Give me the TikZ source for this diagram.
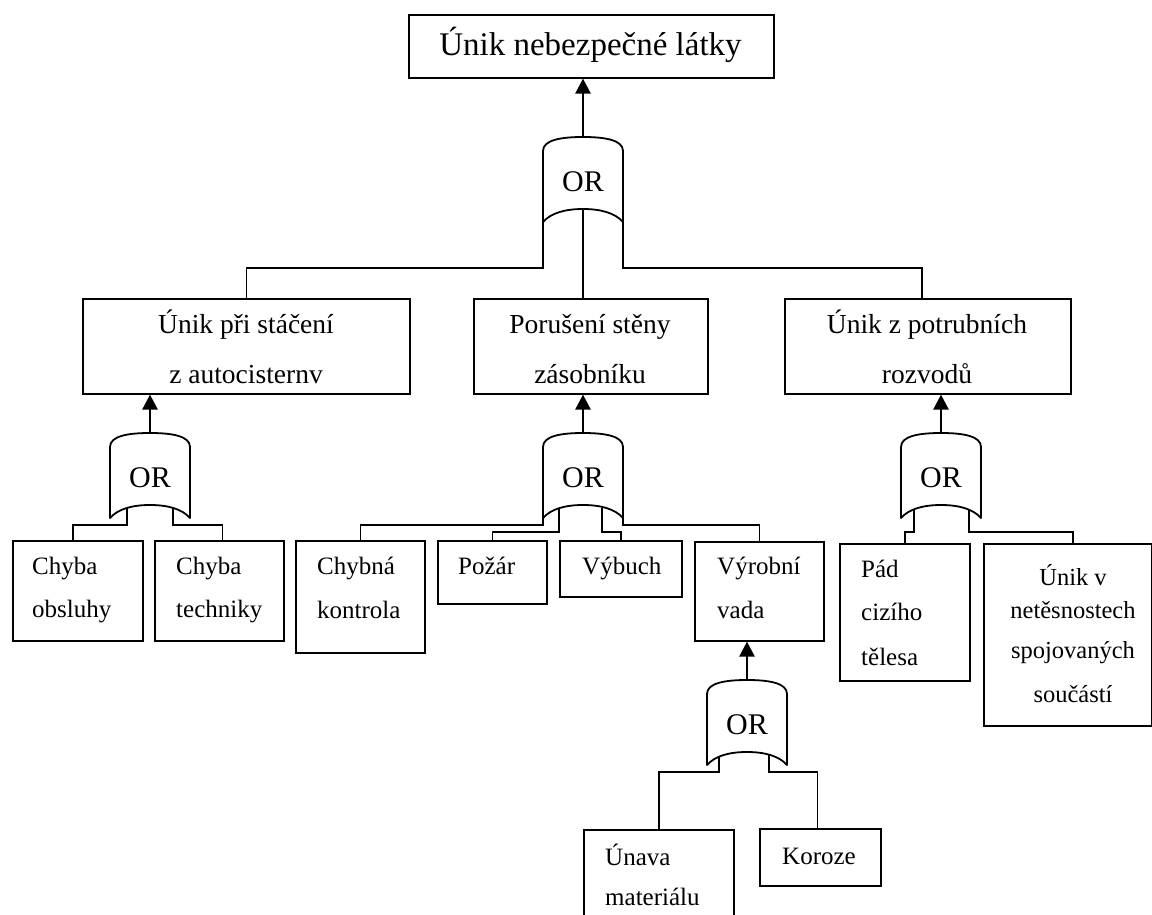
\documentclass[tikz,border=0pt]{standalone}
\usepackage{fontspec}
\setmainfont{Liberation Serif}
\usetikzlibrary{arrows.meta,calc}
\tikzset{
  box/.style={draw, line width=1.6pt, inner sep=0pt, anchor=north west},
  wire/.style={line width=1.6pt, line join=miter},
  gateline/.style={line width=1.8pt, line join=round},
  arr/.style={line width=2.6pt, -{Triangle[length=15pt,width=15pt]}},
  ortext/.style={font=\fontsize{30}{30}\selectfont, inner sep=0pt},
  tA/.style={font=\fontsize{33}{36}\selectfont, inner sep=0pt, anchor=base},
  tB/.style={font=\fontsize{27.5}{30}\selectfont, inner sep=0pt, anchor=base},
  tC/.style={font=\fontsize{25}{28}\selectfont, inner sep=0pt, anchor=base west},
  tCc/.style={font=\fontsize{24.5}{28}\selectfont, inner sep=0pt, anchor=base}
}
\newcommand\orgate[3]{%
  \begin{scope}[shift={(#2,#3)}]
    \draw[gateline] (-40,85) -- (-40,14) .. controls (-40,3) and (-22,0) .. (0,0)
      .. controls (22,0) and (40,3) .. (40,14) -- (40,85)
      .. controls (32,76) and (18,72) .. (0,72)
      .. controls (-18,72) and (-32,76) .. (-40,85) -- cycle;
    \node[ortext] (#1) at (0,45) {OR};
    \coordinate (#1-t) at (0,0);
    \coordinate (#1-bl) at (-40,85);
    \coordinate (#1-br) at (40,85);
    \coordinate (#1-c) at (0,72);
  \end{scope}}
\begin{document}
\begin{tikzpicture}[x=1pt,y=-1pt]
\useasboundingbox (0,0) rectangle (1152,915);
\clip (0,0) rectangle (1152,915);

% boxes
\node[box, minimum width=365pt, minimum height=63pt] (top) at (408,14) {};
\node[box, minimum width=327pt, minimum height=95pt] (ua) at (82,298) {};
\node[box, minimum width=234pt, minimum height=95pt] (pb) at (473,298) {};
\node[box, minimum width=286pt, minimum height=95pt] (up) at (784,298) {};
\node[box, minimum width=130pt, minimum height=100pt] (ob) at (12,540) {};
\node[box, minimum width=129pt, minimum height=100pt] (te) at (154,540) {};
\node[box, minimum width=129pt, minimum height=112pt] (ck) at (295,540) {};
\node[box, minimum width=109pt, minimum height=63pt] (po) at (437,540) {};
\node[box, minimum width=122pt, minimum height=56pt] (vy) at (559,540) {};
\node[box, minimum width=129pt, minimum height=99pt] (vv) at (694,541) {};
\node[box, minimum width=150pt, minimum height=110pt] (un) at (583,829) {};
\node[box, minimum width=121pt, minimum height=57pt] (ko) at (759,828) {};
\node[box, minimum width=130pt, minimum height=137pt] (pa) at (839,543) {};
\node[box, minimum width=168pt, minimum height=182pt] (uv) at (983,543) {};

% texts
\node[tA] (topt) at (590.5,56) {Únik nebezpečné látky};
\node[tB] (ua1) at (246,333) {Únik při stáčení};
\node[tB] (ua2) at (246,383) {z autocisternv};
\node[tB] (pb1) at (590,333) {Porušení stěny};
\node[tB] (pb2) at (590,383) {zásobníku};
\node[tB] (up1) at (927,333) {Únik z potrubních};
\node[tB] (up2) at (927,383) {rozvodů};
\node[tC] (ob1) at (32,574) {Chyba};
\node[tC] (ob2) at (32,617) {obsluhy};
\node[tC] (te1) at (176,574) {Chyba};
\node[tC] (te2) at (176,617) {techniky};
\node[tC] (ck1) at (317,574) {Chybná};
\node[tC] (ck2) at (317,618) {kontrola};
\node[tC] (po1) at (458,574) {Požár};
\node[tC] (vy1) at (582,574) {Výbuch};
\node[tC] (vv1) at (717,574) {Výrobní};
\node[tC] (vv2) at (717,618) {vada};
\node[tC] (un1) at (605,865) {Únava};
\node[tC] (un2) at (605,905) {materiálu};
\node[tC] (ko1) at (782,864) {Koroze};
\node[tC] (pa1) at (861,577) {Pád};
\node[tC] (pa2) at (861,620) {cizího};
\node[tC] (pa3) at (861,665) {tělesa};
\node[tCc] (uv1) at (1073,585) {Únik v};
\node[tCc] (uv2) at (1073,618) {netěsnostech};
\node[tCc] (uv3) at (1073,658) {spojovaných};
\node[tCc] (uv4) at (1073,702) {součástí};

% gates
\orgate{g1}{583}{137}
\orgate{g2}{150}{433}
\orgate{g3}{583}{433}
\orgate{g4}{747}{680}
\orgate{g5}{941}{433}

% arrows
\draw[arr] (g1-t) -- (g1-t |- top.south);
\draw[arr] (g2-t) -- (g2-t |- ua.south);
\draw[arr] (g3-t) -- (g3-t |- pb.south);
\draw[arr] (g4-t) -- (g4-t |- vv.south);
\draw[arr] (g5-t) -- (g5-t |- up.south);

% wires gate 1
\draw[wire] (g1-bl) -- ++(0,46) -| (ua.north);
\draw[wire] (g1-c) -- (g1-c |- pb.north);
\draw[wire] (g1-br) -- ++(0,46) -| ($(up.north)+(-6,0)$);

% wires gate 2
\draw[wire] ($(g2-t)+(-23,75)$) -- ($(g2-t)+(-23,92)$) -| ($(ob.north)+(-5,0)$);
\draw[wire] ($(g2-t)+(23,75)$) -- ($(g2-t)+(23,92)$) -| ($(te.north)+(3,0)$);

% wires gate 3
\draw[wire] (g3-bl) -- ++(0,7) -| (ck.north);
\draw[wire] ($(g3-t)+(-24,75)$) -- ($(g3-t)+(-24,99)$) -| (po.north);
\draw[wire] ($(g3-t)+(19,75)$) -- ($(g3-t)+(19,99)$) -| (vy.north);
\draw[wire] (g3-br) -- ++(0,7) -| (vv.north);

% wires gate 4
\draw[wire] ($(g4-t)+(-28,76)$) -- ($(g4-t)+(-28,92)$) -| (un.north);
\draw[wire] ($(g4-t)+(22,75)$) -- ($(g4-t)+(22,92)$) -| ($(ko.north)+(-3,0)$);

% wires gate 5
\draw[wire] ($(g5-t)+(-27,76)$) -- ($(g5-t)+(-27,99)$) -| (pa.north);
\draw[wire] ($(g5-t)+(28,76)$) -- ($(g5-t)+(28,99)$) -| ($(uv.north)+(5,0)$);
\end{tikzpicture}
\end{document}
